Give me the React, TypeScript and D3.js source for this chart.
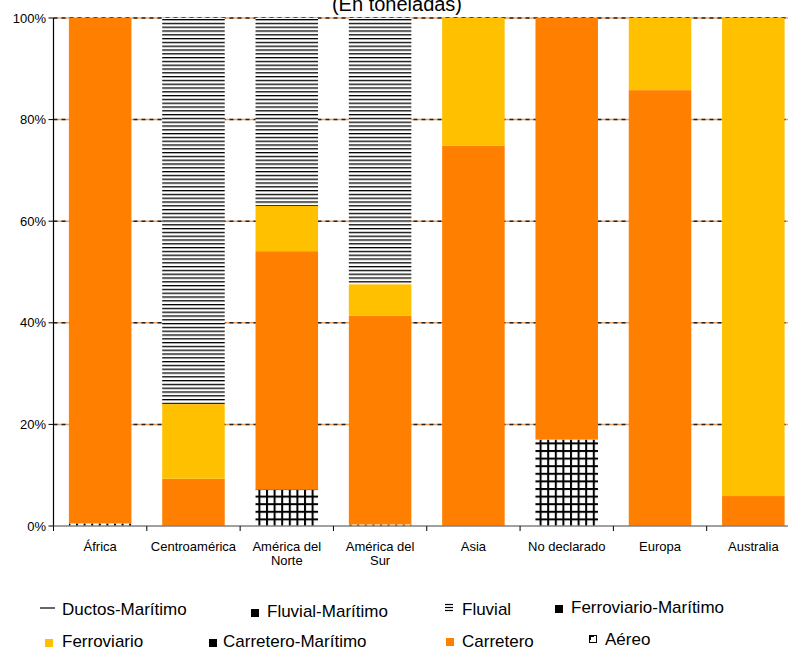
import React from "react";
import * as d3 from "d3";

const categories = ["África", "Centroamérica", "América del Norte", "América del Sur", "Asia", "No declarado", "Europa", "Australia"];
const categoryLines = [["África"], ["Centroamérica"], ["América del", "Norte"], ["América del", "Sur"], ["Asia"], ["No declarado"], ["Europa"], ["Australia"]];

// stacked bottom to top (percent)
const aereo = [0.5, 0, 7.2, 0.3, 0, 17.0, 0, 0];
const carreteroMaritimo = [0, 0, 0, 0, 0, 0, 0, 0];
const ferroviarioMaritimo = [0, 0, 0, 0, 0, 0, 0, 0];
const fluvialMaritimo = [0, 0, 0, 0, 0, 0, 0, 0];
const carretero = [99.5, 9.3, 46.9, 41.1, 74.9, 83.0, 85.8, 5.9];
const ferroviario = [0, 14.7, 8.9, 6.2, 25.1, 0, 14.2, 94.1];
const fluvial = [0, 76.0, 37.0, 52.4, 0, 0, 0, 0];
const ductosMaritimo = [0, 0, 0, 0, 0, 0, 0, 0];

const yTicks = [0, 20, 40, 60, 80, 100];

const series = [
  { name: "Aéreo", values: aereo, fill: "url(#gridPat)" },
  { name: "Carretero-Marítimo", values: carreteroMaritimo, fill: "#000" },
  { name: "Ferroviario-Marítimo", values: ferroviarioMaritimo, fill: "#000" },
  { name: "Fluvial-Marítimo", values: fluvialMaritimo, fill: "#000" },
  { name: "Carretero", values: carretero, fill: "#FF8000" },
  { name: "Ferroviario", values: ferroviario, fill: "#FFC000" },
  { name: "Fluvial", values: fluvial, fill: "url(#hLines)" },
  { name: "Ductos-Marítimo", values: ductosMaritimo, fill: "#000" },
];

export default function App() {
  const W = 788, H = 650;
  const x0 = 53.5, x1 = 800, yTop = 18, yBot = 526;
  const x = d3.scaleBand<string>().domain(categories).range([x0, x1]).paddingInner(0.33).paddingOuter(0.165);
  const y = d3.scaleLinear().domain([0, 100]).range([yBot, yTop]);
  const step = x.step();

  const rows = categories.map((c, i) => {
    const r: any = { cat: c };
    series.forEach((s) => (r[s.name] = s.values[i]));
    return r;
  });
  const stack = d3.stack<any>().keys(series.map((s) => s.name))(rows);

  const font = "'Liberation Sans', Arial, sans-serif";

  return (
    <svg width={W} height={H} style={{ position: "absolute", left: 0, top: 0 }} fontFamily={font}>
      <defs>
        <pattern id="hLines" patternUnits="userSpaceOnUse" width="8" height="3.8">
          <rect width="8" height="3.8" fill="#fff" />
          <rect y="0" width="8" height="1.3" fill="#000" />
        </pattern>
        <pattern id="gridPat" patternUnits="userSpaceOnUse" width="7.6" height="7.6" x={0} y={yBot}>
          <rect width="7.6" height="7.6" fill="#fff" />
          <rect x="0" y="0" width="2" height="7.6" fill="#000" />
          <rect x="0" y="0" width="7.6" height="2" fill="#000" />
        </pattern>
      </defs>
      <rect width={W} height={H} fill="#fff" />
      <text x={397} y={11} fontSize={20} textAnchor="middle" fill="#000">(En toneladas)</text>

      {/* gridlines */}
      {yTicks.filter((t) => t > 0).map((t) => (
        <g key={t}>
          <line x1={x0} x2={x1} y1={y(t)} y2={y(t)} stroke="#f0a060" strokeWidth={1.5} />
          <line x1={x0} x2={x1} y1={y(t)} y2={y(t)} stroke="#222" strokeWidth={1.5} strokeDasharray="4 4" />
        </g>
      ))}

      {/* bars */}
      {stack.map((layer, si) => (
        <g key={series[si].name}>
          {layer.map((d, i) => {
            const h = y(d[0]) - y(d[1]);
            if (h <= 0) return null;
            return (
              <rect key={i} x={x(categories[i])} y={y(d[1])} width={x.bandwidth()} height={h} fill={series[si].fill} />
            );
          })}
        </g>
      ))}

      {/* y axis */}
      <line x1={x0} x2={x0} y1={yTop} y2={yBot} stroke="#000" strokeWidth={1.2} />
      {yTicks.map((t) => (
        <g key={t}>
          <line x1={x0 - 5} x2={x0} y1={y(t)} y2={y(t)} stroke="#000" />
          <text x={46} y={y(t) + 4.5} fontSize={13} textAnchor="end" fill="#000">{t}%</text>
        </g>
      ))}

      {/* x axis */}
      <line x1={x0} x2={x1} y1={yBot} y2={yBot} stroke="#808080" strokeWidth={1.5} />
      {d3.range(categories.length + 1).map((k) => (
        <line key={k} x1={x0 + k * step} x2={x0 + k * step} y1={yBot} y2={yBot + 5} stroke="#000" />
      ))}
      {categories.map((c, i) => (
        <text key={c} x={(x(c) as number) + x.bandwidth() / 2} y={551} fontSize={13} textAnchor="middle" fill="#000">
          {categoryLines[i].map((l, j) => (
            <tspan key={j} x={(x(c) as number) + x.bandwidth() / 2} dy={j === 0 ? 0 : 14}>{l}</tspan>
          ))}
        </text>
      ))}

      {/* legend */}
      <g fontSize={17} fill="#000">
        <line x1={40} x2={55} y1={608} y2={608} stroke="#000" strokeWidth={1.2} />
        <text x={62} y={615}>Ductos-Marítimo</text>

        <rect x={251} y={609} width={8} height={8} fill="#000" />
        <text x={267} y={617}>Fluvial-Marítimo</text>

        <g stroke="#000" strokeWidth={1.2}>
          <line x1={445} x2={453} y1={604.5} y2={604.5} />
          <line x1={445} x2={453} y1={607.5} y2={607.5} />
          <line x1={445} x2={453} y1={610.5} y2={610.5} />
        </g>
        <text x={462} y={615}>Fluvial</text>

        <rect x={555} y={605} width={8} height={8} fill="#000" />
        <text x={571} y={613}>Ferroviario-Marítimo</text>

        <rect x={45} y={639} width={8} height={8} fill="#FFC000" />
        <text x={62} y={647}>Ferroviario</text>

        <rect x={209} y={639} width={8} height={8} fill="#000" />
        <text x={223} y={647}>Carretero-Marítimo</text>

        <rect x={446} y={638} width={8} height={8} fill="#FF8000" />
        <text x={462} y={647}>Carretero</text>

        <rect x={589.5} y={635.5} width={7} height={7} fill="#fff" stroke="#000" strokeWidth={1} />
        <rect x={589} y={635} width={2} height={5} fill="#000" />
        <rect x={589} y={635} width={5} height={2} fill="#000" />
        <text x={605} y={645}>Aéreo</text>
      </g>
    </svg>
  );
}
